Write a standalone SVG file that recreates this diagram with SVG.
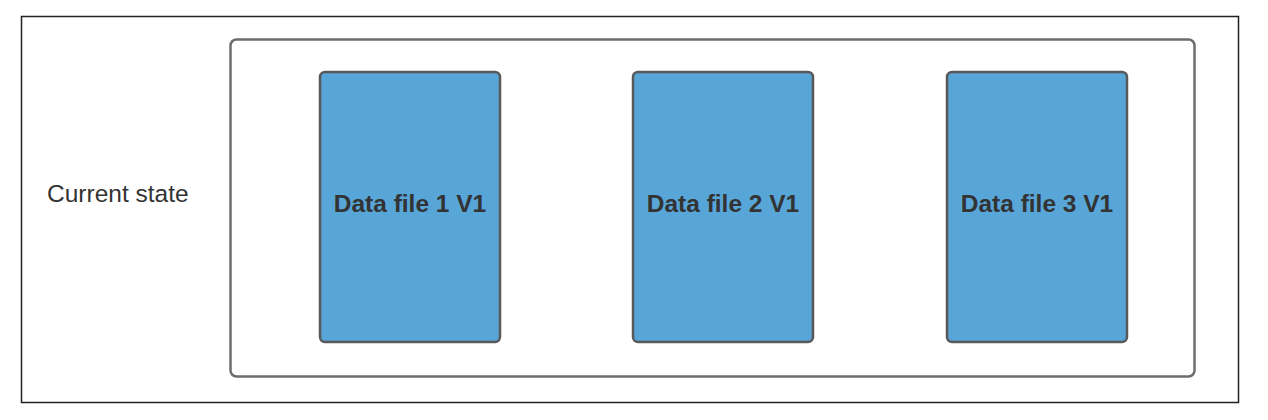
<svg xmlns="http://www.w3.org/2000/svg" width="1268" height="420" viewBox="0 0 1268 420">
<style>
.file{fill:#58a5d8;stroke:#595959;stroke-width:2.5}
.lbl{font-family:"Liberation Sans",Arial,sans-serif;font-size:24.5px;font-weight:bold;fill:#333;text-anchor:middle}
.side{font-family:"Liberation Sans",Arial,sans-serif;font-size:24.5px;fill:#333}
</style>
<rect x="0" y="0" width="1268" height="420" fill="#fff"/>
<rect x="21.5" y="16.5" width="1217" height="386" fill="none" stroke="#222" stroke-width="1.5"/>
<rect id="container" x="230.5" y="39.5" width="964" height="337" rx="6" fill="#fff" stroke="#6e6e6e" stroke-width="2.5"/>
<text class="side" x="47" y="202">Current state</text>
<g id="file1"><rect class="file" x="320" y="72" width="180" height="270" rx="5"/><text class="lbl" x="410" y="212">Data file 1 V1</text></g>
<g id="file2"><rect class="file" x="633" y="72" width="180" height="270" rx="5"/><text class="lbl" x="723" y="212">Data file 2 V1</text></g>
<g id="file3"><rect class="file" x="947" y="72" width="180" height="270" rx="5"/><text class="lbl" x="1037" y="212">Data file 3 V1</text></g>
<g id="connectors"></g>
</svg>
